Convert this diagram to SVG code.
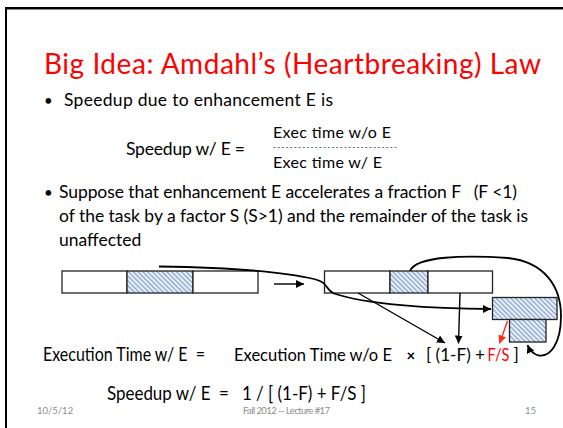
<svg xmlns="http://www.w3.org/2000/svg" width="563" height="428" viewBox="0 0 563 428">
<style>
.t{font-family:Lato,"Liberation Sans",sans-serif;fill:#000;white-space:pre}
.title{font-size:28px;fill:#ff0000}
.b{font-size:17.5px}
.bul{font-size:15px}
.f{font-size:16px}
.e{font-size:18.5px}
.e2{font-size:17.5px}
.ft{font-size:9.5px;fill:#8c8c8c}
.red{fill:#ff0000}
.box{stroke:#222;stroke-width:1.3}
.plain{fill:#fff}
.hat{fill:url(#hatch)}
.conn{fill:none;stroke:#000;stroke-width:1.4}
.curve{fill:none;stroke:#000;stroke-width:1.8}
</style>
<defs>
<pattern id="hatch" width="3.4" height="3.4" patternUnits="userSpaceOnUse" patternTransform="rotate(-45)">
<rect width="3.4" height="3.4" fill="#eaf0f8"/>
<line x1="0.6" y1="0" x2="0.6" y2="3.4" stroke="#7a98c9" stroke-width="1.1"/>
</pattern>
<marker id="ah" viewBox="0 0 10 10" refX="10" refY="5" markerWidth="8" markerHeight="8" markerUnits="userSpaceOnUse" orient="auto"><path d="M0,0 L10,5 L0,10 z" fill="#000"/></marker>
<marker id="ahr" viewBox="0 0 10 10" refX="10" refY="5" markerWidth="8" markerHeight="8" markerUnits="userSpaceOnUse" orient="auto"><path d="M0,0 L10,5 L0,10 z" fill="#ff2a1a"/></marker>
</defs>
<rect width="563" height="428" fill="#fff"/>
<rect x="5" y="7" width="2" height="421" fill="#000"/>
<rect x="5" y="7" width="558" height="2" fill="#000"/>
<rect x="7" y="9" width="556" height="1" fill="#888"/>

<g id="texts">
<text class="t title" x="44" y="74" textLength="497">Big Idea: Amdahl’s (Heartbreaking) Law</text>
<text class="t bul" x="44" y="106">•</text>
<text class="t b" x="64" y="106" textLength="269">Speedup due to enhancement E is</text>
<text class="t b" x="126" y="155" textLength="119">Speedup w/ E =</text>
<text class="t f" x="273" y="138" textLength="118">Exec time w/o E</text>
<text class="t" style="font-size:8px" x="273" y="149.5" textLength="124">------------------------------</text>
<text class="t f" x="273" y="167.5" textLength="109">Exec time w/ E</text>
<text class="t bul" x="44" y="198">•</text>
<text class="t b" x="59" y="198" textLength="458">Suppose that enhancement E accelerates a fraction F   (F &lt;1)</text>
<text class="t b" x="59" y="222" textLength="469">of the task by a factor S (S&gt;1) and the remainder of the task is</text>
<text class="t b" x="59" y="246">unaffected</text>
<text class="t e" x="43" y="361" textLength="162" lengthAdjust="spacingAndGlyphs">Execution Time w/ E  =</text>
<text class="t e2" x="234" y="361" textLength="158" lengthAdjust="spacingAndGlyphs">Execution Time w/o E</text>
<text class="t" style="font-size:15px" x="406.5" y="361" font-weight="bold">×</text>
<text class="t e2" x="426" y="361" textLength="59" lengthAdjust="spacingAndGlyphs">[ (1-F) +</text>
<text class="t e2 red" x="487.5" y="361" textLength="22" lengthAdjust="spacingAndGlyphs">F/S</text>
<text class="t e2" x="513.5" y="361">]</text>
<text class="t e" x="107" y="400" textLength="259" lengthAdjust="spacingAndGlyphs">Speedup w/ E  =   1 / [ (1-F) + F/S ]</text>
<text class="t ft" x="37" y="414">10/5/12</text>
<text class="t ft" x="243" y="414" textLength="87">Fall 2012 -- Lecture #17</text>
<text class="t ft" x="525" y="414">15</text>
</g>

<g id="bar1">
<rect class="box plain" x="62" y="271" width="65" height="22"/>
<rect class="box hat" x="127" y="271" width="66" height="22"/>
<rect class="box plain" x="193" y="271" width="65" height="22"/>
</g>
<g id="bar2">
<rect class="box plain" x="324.5" y="271" width="65.5" height="22"/>
<rect class="box hat" x="390" y="271" width="38" height="22"/>
<rect class="box plain" x="428" y="271" width="64.5" height="22"/>
</g>
<g id="enlarged">
<rect class="box hat" x="492.5" y="297.5" width="64.5" height="22"/>
</g>
<g id="shrunk">
<rect class="box hat" x="509.5" y="319.5" width="36.5" height="22.5"/>
</g>

<g id="connectors">
<line class="conn" x1="274" y1="284" x2="304" y2="284" marker-end="url(#ah)"/>
<path class="curve" d="M159,266.5 C225,267.5 285,272 314,279 C330,283 324,289 334,293.5 C365,304 430,309 491,309" marker-end="url(#ah)"/>
<path class="curve" d="M410,271 C416,256 465,255 508,258 C545,262 561,287 561,316 C561,344 550,357 539,355.5 C534,354.5 530,351 527.5,345" marker-end="url(#ah)"/>
<line class="conn" x1="358" y1="293" x2="445" y2="343" marker-end="url(#ah)"/>
<line class="conn" x1="460" y1="293" x2="458.5" y2="343.5" marker-end="url(#ah)"/>
<line class="conn" style="stroke:#ff2a1a" x1="507.5" y1="321" x2="499.5" y2="343.5" marker-end="url(#ahr)"/>
</g>
</svg>
